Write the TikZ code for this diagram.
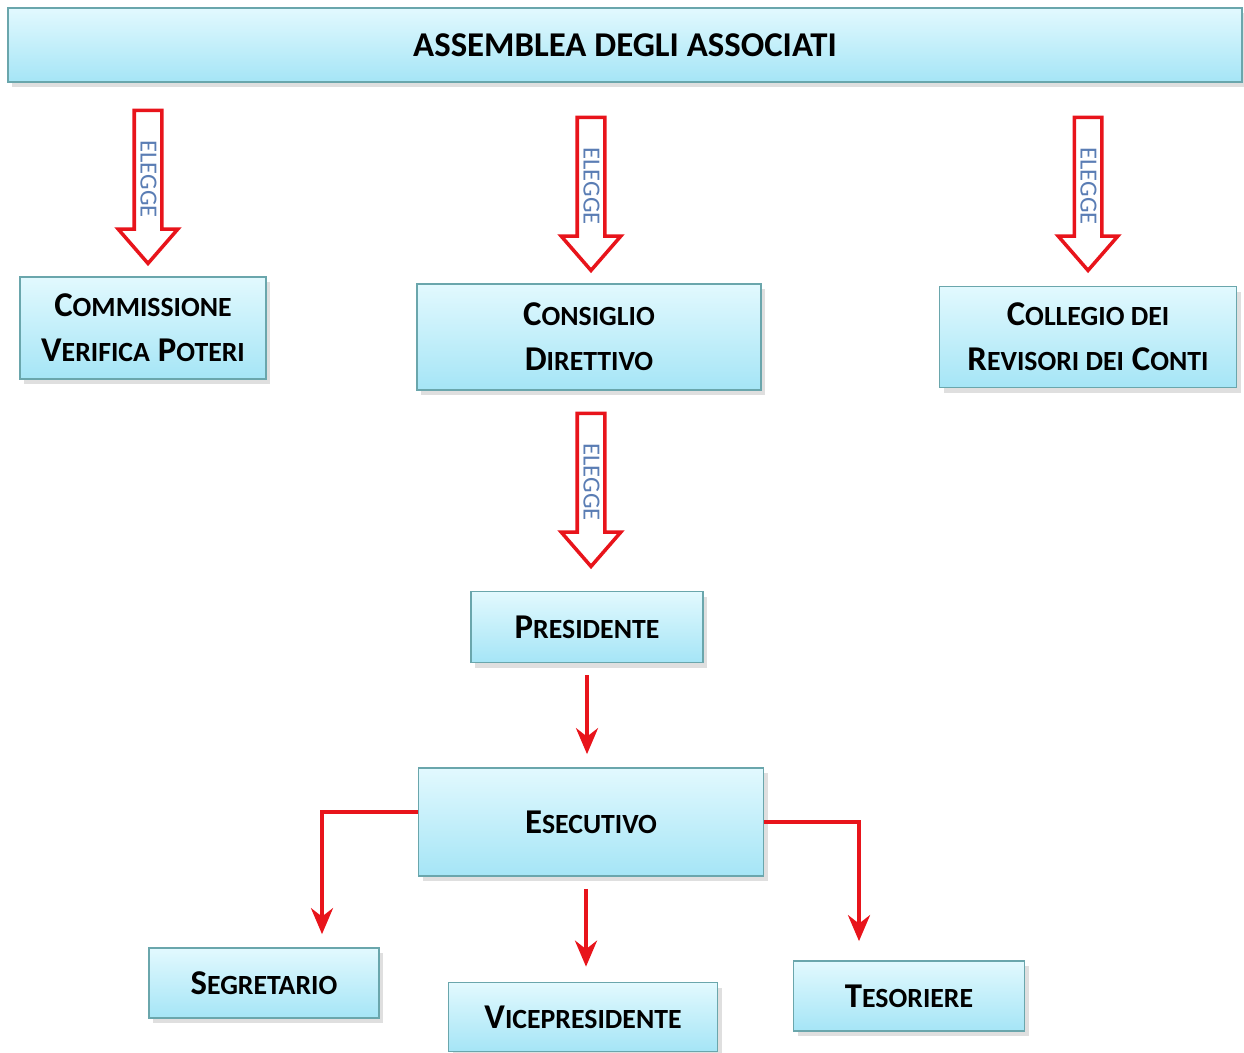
\documentclass[tikz,border=0pt]{standalone}
\usepackage{fontspec}
\setmainfont{Carlito}
\usetikzlibrary{shapes.arrows,shadows,arrows.meta}

\definecolor{boxtop}{HTML}{E2F9FE}
\definecolor{boxbot}{HTML}{A5E5F6}
\definecolor{boxline}{HTML}{6AA6AC}
\definecolor{arrred}{HTML}{E8141B}
\definecolor{eleggeblue}{HTML}{5A7DB4}

\newcommand\sm[1]{{\fontsize{7.9}{12.8}\selectfont #1}}

\tikzset{
  box/.style={draw=boxline, line width=0.5pt, top color=boxtop, bottom color=boxbot,
    drop shadow={shadow xshift=0.4mm, shadow yshift=-0.5mm, opacity=0.25},
    font=\bfseries\fontsize{9.9}{12.8}\selectfont, align=center, inner sep=0pt},
  elegge/.style={single arrow, draw=arrred, line width=1pt, fill=white, rotate=-90,
    single arrow head extend=1.6mm, single arrow tip angle=82, minimum height=15.3mm,
    text height=1.5mm, text depth=0pt, inner ysep=0.45mm, inner xsep=0pt,
    font=\fontsize{7}{7}\selectfont, text=eleggeblue},
  link/.style={draw=arrred, line width=1.1pt, -{Stealth[length=2.6mm,width=2.2mm]}}
}

\begin{document}
\begin{tikzpicture}[x=0.1mm, y=-0.1mm]
\useasboundingbox (0,0) rectangle (1244,1052);
% assemblea
\node[box, minimum width=123.4mm, minimum height=7.4mm] (assemb) at (625,45) {ASSEMBLEA DEGLI ASSOCIATI};
% organi eletti
\node[box, minimum width=24.6mm, minimum height=10.2mm] (comm) at (143,328) {C\sm{OMMISSIONE}\\V\sm{ERIFICA} P\sm{OTERI}};
\node[box, minimum width=34.4mm, minimum height=10.6mm] (cons) at (589,337) {C\sm{ONSIGLIO}\\D\sm{IRETTIVO}};
\node[box, minimum width=29.7mm, minimum height=10.1mm] (coll) at (1088,337) {C\sm{OLLEGIO DEI}\\R\sm{EVISORI DEI} C\sm{ONTI}};
\node[box, minimum width=23.2mm, minimum height=7.1mm] (pres) at (587,627) {P\sm{RESIDENTE}};
\node[box, minimum width=34.5mm, minimum height=10.8mm] (esec) at (591,822) {E\sm{SECUTIVO}};
\node[box, minimum width=23.0mm, minimum height=7.0mm] (segr) at (264,983) {S\sm{EGRETARIO}};
\node[box, minimum width=26.9mm, minimum height=6.9mm] (vice) at (583,1017) {V\sm{ICEPRESIDENTE}};
\node[box, minimum width=23.1mm, minimum height=7.0mm] (tes) at (909,996) {T\sm{ESORIERE}};
% frecce elegge
\node[elegge] (el1) at (148,179) {ELEGGE};
\node[elegge] (el2) at (591,186) {ELEGGE};
\node[elegge] (el3) at (1088,186) {ELEGGE};
\node[elegge] (el4) at (591,482) {ELEGGE};
% collegamenti
\draw[link, shorten <=1.2mm, shorten >=1.3mm] (pres.south) -- (pres.south |- esec.north);
\draw[link, shorten <=1.2mm, shorten >=1.5mm] ([xshift=-0.5mm]esec.south) -- ([xshift=-0.5mm]esec.south |- vice.north);
\draw[link] ([yshift=1mm]esec.west) -| ([xshift=5.8mm,yshift=1.3mm]segr.north);
\draw[link] (esec.east) -| ([xshift=-5mm,yshift=1.9mm]tes.north);
\end{tikzpicture}
\end{document}
